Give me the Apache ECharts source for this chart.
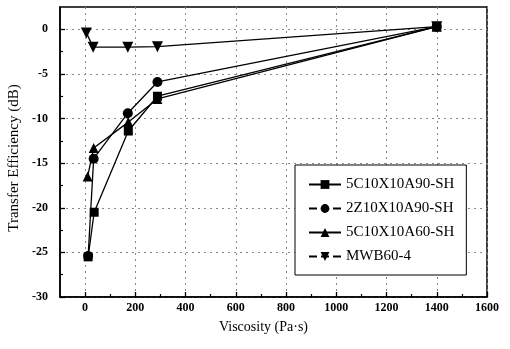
<!DOCTYPE html>
<html>
<head>
<meta charset="utf-8">
<script src="https://cdn.jsdelivr.net/npm/echarts@6/dist/echarts.min.js"></script>
<style>
  html, body { margin: 0; padding: 0; background: #fff; }
  #chart { width: 510px; height: 349px; }
</style>
</head>
<body>
<div id="chart"></div>
<script>
// Transfer efficiency against viscosity for four transducer/fluid set-ups
const seriesNames = ['5C10X10A90-SH', '2Z10X10A90-SH', '5C10X10A60-SH', 'MWB60-4'];

const viscA90 = [12, 36, 172, 288, 1400];
const effA90 = [-25.5, -20.5, -11.4, -7.5, 0.3];

const viscZ90 = [12, 34, 170, 288, 1400];
const effZ90 = [-25.4, -14.5, -9.4, -5.9, 0.3];

const viscA60 = [10, 34, 172, 288, 1400];
const effA60 = [-16.5, -13.3, -10.4, -7.8, 0.3];

const viscMWB = [5, 32, 170, 288, 1400];
const effMWB = [-0.4, -2.0, -2.0, -1.95, 0.3];

const xMajorTicks = [0, 200, 400, 600, 800, 1000, 1200, 1400, 1600];
const xMinorTicks = [100, 300, 500, 700, 900, 1100, 1300, 1500];
const yMajorTicks = [-30, -25, -20, -15, -10, -5, 0];
const yMinorTicks = [-27.5, -22.5, -17.5, -12.5, -7.5, -2.5];

const pairs = (xs, ys) => xs.map((x, i) => [x, ys[i]]);

const FONT = 'Liberation Serif';
const black = '#000';
const plain = v => String(v);

function lineSeries(name, xs, ys, symbol, size, rotate) {
  return {
    name: name,
    type: 'line',
    data: pairs(xs, ys),
    symbol: symbol,
    symbolSize: size,
    symbolRotate: rotate || 0,
    showSymbol: true,
    lineStyle: { color: black, width: 1.3 },
    itemStyle: { color: black },
    z: 3
  };
}

const chart = echarts.init(document.getElementById('chart'), null, { renderer: 'canvas' });

chart.setOption({
  animation: false,
  backgroundColor: '#fff',
  grid: {
    left: 60, right: 23, top: 7, bottom: 52,
    outerBoundsMode: 'none',
    show: true, borderColor: black, borderWidth: 1.5,
    backgroundColor: 'transparent'
  },
  xAxis: [{
    type: 'value',
    min: -100, max: 1600,
    name: 'Viscosity (Pa·s)',
    nameLocation: 'middle',
    nameGap: 23,
    nameTextStyle: { fontFamily: FONT, fontSize: 14, color: black, padding: [0, 20, 0, 0] },
    axisLine: { show: true, onZero: false, lineStyle: { color: black, width: 1.5 } },
    axisTick: { show: true, inside: true, length: 5, customValues: xMajorTicks, lineStyle: { color: black, width: 1.3 } },
    axisLabel: { customValues: xMajorTicks, formatter: plain, fontFamily: FONT, fontSize: 12, fontWeight: 'bold', color: black, margin: 5 },
    splitLine: { show: true, lineStyle: { color: '#888', type: [2, 4], width: 1 } }
  }, {
    type: 'value',
    min: -100, max: 1600,
    position: 'bottom',
    axisLine: { show: false, onZero: false },
    axisTick: { show: true, inside: true, length: 3, customValues: xMinorTicks, lineStyle: { color: black, width: 1.2 } },
    axisLabel: { show: false },
    splitLine: { show: false }
  }],
  yAxis: [{
    type: 'value',
    min: -30, max: 2.5,
    name: 'Transfer Efficiency (dB)',
    nameLocation: 'middle',
    nameGap: 22,
    nameRotate: 90,
    nameTextStyle: { fontFamily: FONT, fontSize: 15, color: black, padding: [0, 12, 0, 0] },
    axisLine: { show: true, onZero: false, lineStyle: { color: black, width: 1.5 } },
    axisTick: { show: true, inside: true, length: 5, customValues: yMajorTicks, lineStyle: { color: black, width: 1.3 } },
    axisLabel: { customValues: yMajorTicks, formatter: plain, fontFamily: FONT, fontSize: 12, fontWeight: 'bold', color: black, margin: 12 },
    splitLine: { show: true, lineStyle: { color: '#888', type: [2, 4], width: 1 } }
  }, {
    type: 'value',
    min: -30, max: 2.5,
    position: 'left',
    axisLine: { show: false, onZero: false },
    axisTick: { show: true, inside: true, length: 3, customValues: yMinorTicks, lineStyle: { color: black, width: 1.2 } },
    axisLabel: { show: false },
    splitLine: { show: false }
  }],
  legend: {
    orient: 'vertical',
    left: 295, top: 165,
    padding: [12, 12, 11, 13],
    itemGap: 9,
    itemWidth: 32,
    itemHeight: 11,
    backgroundColor: '#fff',
    borderColor: black,
    borderWidth: 1,
    textStyle: { fontFamily: FONT, fontSize: 15, color: black },
    data: [
      { name: seriesNames[0] },
      { name: seriesNames[1], lineStyle: { type: 'dashed' } },
      { name: seriesNames[2] },
      { name: seriesNames[3], lineStyle: { type: 'dashed' } }
    ]
  },
  series: [
    lineSeries(seriesNames[0], viscA90, effA90, 'rect', 9),
    lineSeries(seriesNames[1], viscZ90, effZ90, 'circle', 10),
    lineSeries(seriesNames[2], viscA60, effA60, 'triangle', 10),
    lineSeries(seriesNames[3], viscMWB, effMWB, 'triangle', 11, 180)
  ]
});
</script>
</body>
</html>
